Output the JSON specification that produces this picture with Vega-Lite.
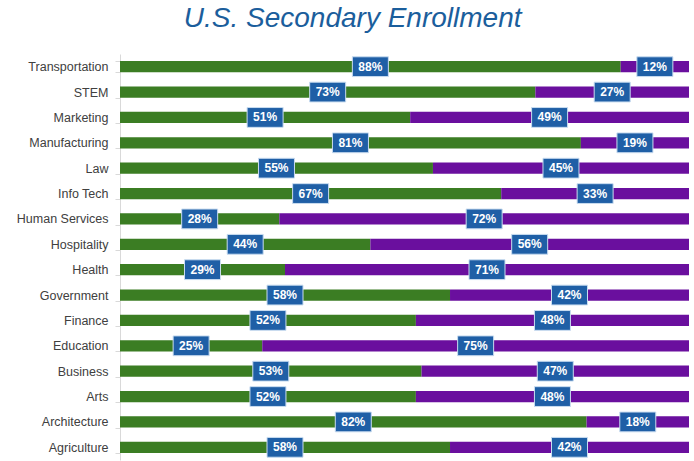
{
  "$schema": "https://vega.github.io/schema/vega-lite/v6.json",
  "autosize": {"type": "none"},
  "padding": {"left": 120, "top": 54, "right": 5, "bottom": 1},
  "width": 569,
  "height": 406,
  "background": "white",
  "config": {"view": {"stroke": null}},
  "title": {
    "text": "U.S. Secondary Enrollment",
    "font": "Liberation Sans",
    "fontSize": 28,
    "fontStyle": "italic",
    "fontWeight": "normal",
    "color": "#1B5E9C",
    "anchor": "middle",
    "frame": "bounds",
    "offset": 15
  },
  "data": {
    "values": [
      {"category": "Transportation", "gender": "Male", "pct": 0.88},
      {"category": "Transportation", "gender": "Female", "pct": 0.12},
      {"category": "STEM", "gender": "Male", "pct": 0.73},
      {"category": "STEM", "gender": "Female", "pct": 0.27},
      {"category": "Marketing", "gender": "Male", "pct": 0.51},
      {"category": "Marketing", "gender": "Female", "pct": 0.49},
      {"category": "Manufacturing", "gender": "Male", "pct": 0.81},
      {"category": "Manufacturing", "gender": "Female", "pct": 0.19},
      {"category": "Law", "gender": "Male", "pct": 0.55},
      {"category": "Law", "gender": "Female", "pct": 0.45},
      {"category": "Info Tech", "gender": "Male", "pct": 0.67},
      {"category": "Info Tech", "gender": "Female", "pct": 0.33},
      {"category": "Human Services", "gender": "Male", "pct": 0.28},
      {"category": "Human Services", "gender": "Female", "pct": 0.72},
      {"category": "Hospitality", "gender": "Male", "pct": 0.44},
      {"category": "Hospitality", "gender": "Female", "pct": 0.56},
      {"category": "Health", "gender": "Male", "pct": 0.29},
      {"category": "Health", "gender": "Female", "pct": 0.71},
      {"category": "Government", "gender": "Male", "pct": 0.58},
      {"category": "Government", "gender": "Female", "pct": 0.42},
      {"category": "Finance", "gender": "Male", "pct": 0.52},
      {"category": "Finance", "gender": "Female", "pct": 0.48},
      {"category": "Education", "gender": "Male", "pct": 0.25},
      {"category": "Education", "gender": "Female", "pct": 0.75},
      {"category": "Business", "gender": "Male", "pct": 0.53},
      {"category": "Business", "gender": "Female", "pct": 0.47},
      {"category": "Arts", "gender": "Male", "pct": 0.52},
      {"category": "Arts", "gender": "Female", "pct": 0.48},
      {"category": "Architecture", "gender": "Male", "pct": 0.82},
      {"category": "Architecture", "gender": "Female", "pct": 0.18},
      {"category": "Agriculture", "gender": "Male", "pct": 0.58},
      {"category": "Agriculture", "gender": "Female", "pct": 0.42}
    ]
  },
  "transform": [
    {"stack": "pct", "groupby": ["category"], "sort": [{"field": "gender", "order": "descending"}], "as": ["p0", "p1"]},
    {"calculate": "(datum.p0 + datum.p1) / 2", "as": "mid"}
  ],
  "encoding": {
    "y": {
      "field": "category",
      "type": "nominal",
      "sort": null,
      "scale": {"paddingInner": 0.56, "paddingOuter": 0.28},
      "axis": {
        "title": null,
        "labelFont": "Liberation Sans",
        "labelFontSize": 12.5,
        "labelColor": "#404040",
        "labelPadding": 7,
        "tickSize": 5,
        "tickBand": "extent",
        "tickColor": "#d9d9d9",
        "domainColor": "#d9d9d9",
        "grid": false
      }
    }
  },
  "layer": [
    {
      "mark": {"type": "bar"},
      "encoding": {
        "x": {"field": "p0", "type": "quantitative", "scale": {"domain": [0, 1], "nice": false}, "axis": null},
        "x2": {"field": "p1"},
        "color": {
          "field": "gender",
          "type": "nominal",
          "scale": {"domain": ["Male", "Female"], "range": ["#3B7D23", "#6A0F9E"]},
          "legend": null
        }
      }
    },
    {
      "mark": {
        "type": "point",
        "shape": "M-1,-0.55H1V0.55H-1Z",
        "size": 1296,
        "filled": true,
        "fill": "#1F5FA6",
        "stroke": "#C9DCF0",
        "strokeWidth": 1,
        "opacity": 1
      },
      "encoding": {
        "x": {"field": "mid", "type": "quantitative", "scale": {"domain": [0, 1], "nice": false}, "axis": null}
      }
    },
    {
      "mark": {
        "type": "text",
        "font": "Liberation Sans",
        "fontSize": 12,
        "fontWeight": "bold",
        "color": "white",
        "baseline": "middle",
        "align": "center"
      },
      "encoding": {
        "x": {"field": "mid", "type": "quantitative", "scale": {"domain": [0, 1], "nice": false}, "axis": null},
        "text": {"field": "pct", "type": "quantitative", "format": ".0%"}
      }
    }
  ]
}
